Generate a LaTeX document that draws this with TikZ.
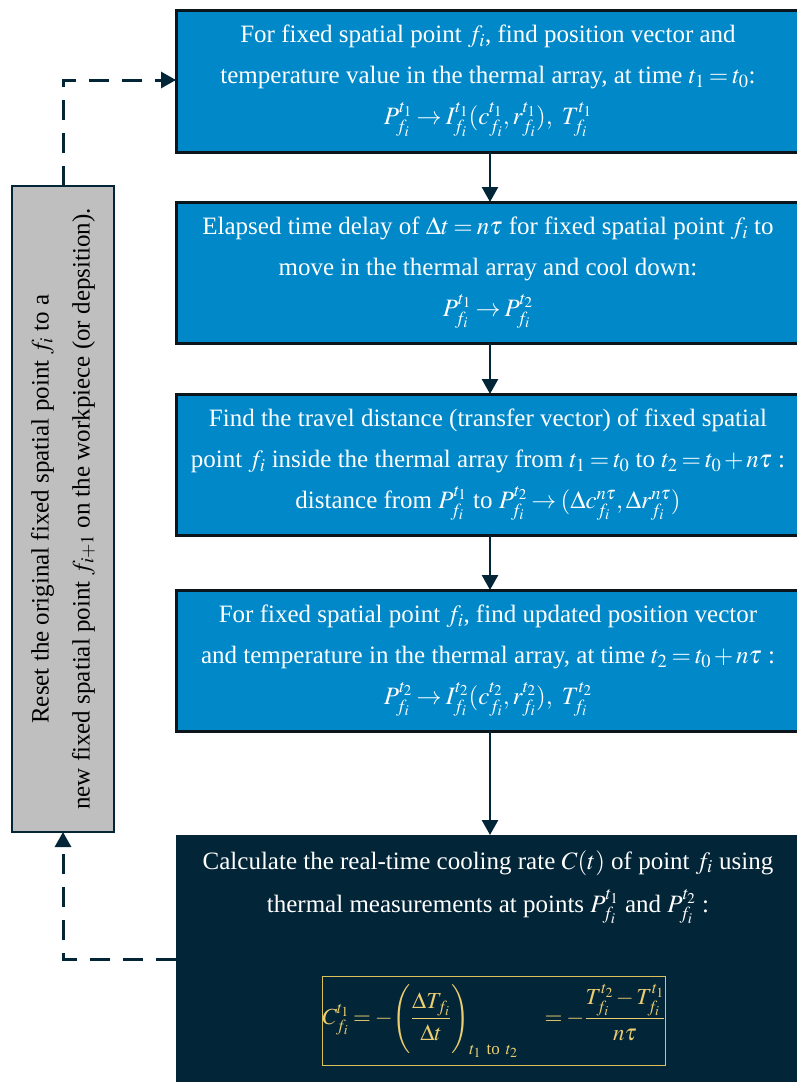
\documentclass[tikz,border=0pt]{standalone}
\usepackage{amsmath}
\usepackage{mathptmx}
\usepackage{fontspec}
\setmainfont{Liberation Serif}
\usetikzlibrary{arrows.meta,calc}

\definecolor{stepblue}{RGB}{0,136,200}
\definecolor{navy}{RGB}{2,37,56}
\definecolor{boxline}{RGB}{12,20,28}
\definecolor{graybox}{RGB}{191,191,191}
\definecolor{gold}{RGB}{222,192,90}
\definecolor{goldtext}{RGB}{236,206,112}

% tighter spacing around relations and binary operators
\thickmuskip=3mu plus 2mu
\medmuskip=2mu plus 1mu

\begin{document}
\begin{tikzpicture}[x=1pt,y=-1pt,
  every node/.style={inner sep=0pt, outer sep=0pt},
  stepbox/.style={draw=boxline, line width=3pt, fill=stepblue, rectangle,
    anchor=north west, minimum width=624pt},
  bodytext/.style={text=white, align=center, font=\fontsize{25}{41}\selectfont},
  flow/.style={draw=navy, line width=2.5pt, -{Triangle[width=16pt,length=15pt]}},
  loopback/.style={draw=navy, line width=3pt, dash pattern=on 20pt off 13pt,
    -{Triangle[width=16pt,length=15pt]}},
]
\useasboundingbox (0,0) rectangle (796,1082);

% process steps
\node[stepbox, minimum height=142pt] (b1) at (176,10) {};
\node[bodytext] (t1) at (b1.center) {For fixed spatial point $f_i$, find position vector and\\
  temperature value in the thermal array, at time $t_1=t_0$:\\
  $P_{f_i}^{t_1}\rightarrow I_{f_i}^{t_1}(c_{f_i}^{t_1},r_{f_i}^{t_1}),\ T_{f_i}^{t_1}$};

\node[stepbox, minimum height=141pt] (b2) at (176,202) {};
\node[bodytext] (t2) at (b2.center) {Elapsed time delay of $\Delta t=n\tau$ for fixed spatial point $f_i$ to\\
  move in the thermal array and cool down:\\
  $P_{f_i}^{t_1}\rightarrow P_{f_i}^{t_2}$};

\node[stepbox, minimum height=141pt] (b3) at (176,394) {};
\node[bodytext] (t3) at (b3.center) {Find the travel distance (transfer vector) of fixed spatial\\
  point $f_i$ inside the thermal array from $t_1=t_0$ to $t_2=t_0+n\tau$ :\\
  distance from $P_{f_i}^{t_1}$ to $P_{f_i}^{t_2}\rightarrow(\Delta c_{f_i}^{n\tau},\Delta r_{f_i}^{n\tau})$};

\node[stepbox, minimum height=141pt] (b4) at (176,590) {};
\node[bodytext] (t4) at (b4.center) {For fixed spatial point $f_i$, find updated position vector\\
  and temperature in the thermal array, at time $t_2=t_0+n\tau$ :\\
  $P_{f_i}^{t_2}\rightarrow I_{f_i}^{t_2}(c_{f_i}^{t_2},r_{f_i}^{t_2}),\ T_{f_i}^{t_2}$};

% cooling-rate step
\node[anchor=north west, fill=navy, draw=navy, minimum width=630pt, minimum height=260pt] (b5) at (176,835) {};
\node[bodytext, font=\fontsize{25}{43}\selectfont] (t5) at (488,887) {Calculate the real-time cooling rate $C(t)$ of point $f_i$ using\\
  thermal measurements at points $P_{f_i}^{t_1}$ and $P_{f_i}^{t_2}$ :};
\node[draw=gold, line width=1.5pt, text=goldtext, minimum width=322pt, minimum height=89pt,
  font=\fontsize{23}{26}\selectfont] (fm) at (494,1021)
  {$\displaystyle C_{f_i}^{t_1}=-\Biggl(\frac{\Delta T_{f_i}}{\Delta t}\Biggr)_{t_1\ \text{to}\ t_2}\quad=-\frac{T_{f_i}^{t_2}-T_{f_i}^{t_1}}{n\tau}$};

% reset step
\node[draw=navy, line width=2.5pt, fill=graybox, minimum width=102pt, minimum height=646pt] (g) at (63,509) {};
\node[rotate=90, align=center, text=black, font=\fontsize{25}{41}\selectfont] (gt) at (g.center)
  {Reset the original fixed spatial point $f_i$ to a\\
   new fixed spatial point $f_{i+1}$ on the workpiece (or depsition).};

% connectors
\coordinate (ax) at (490,0);
\draw[flow] (b1.south -| ax) -- (b2.north -| ax);
\draw[flow] (b2.south -| ax) -- (b3.north -| ax);
\draw[flow] (b3.south -| ax) -- (b4.north -| ax);
\draw[flow] (b4.south -| ax) -- (b5.north -| ax);

\coordinate (topy) at (0,80);
\coordinate (boty) at (0,959);
\draw[loopback] (g.north) |- (b1.west |- topy);
\draw[loopback] (b5.west |- boty) -| (g.south);
\end{tikzpicture}
\end{document}
